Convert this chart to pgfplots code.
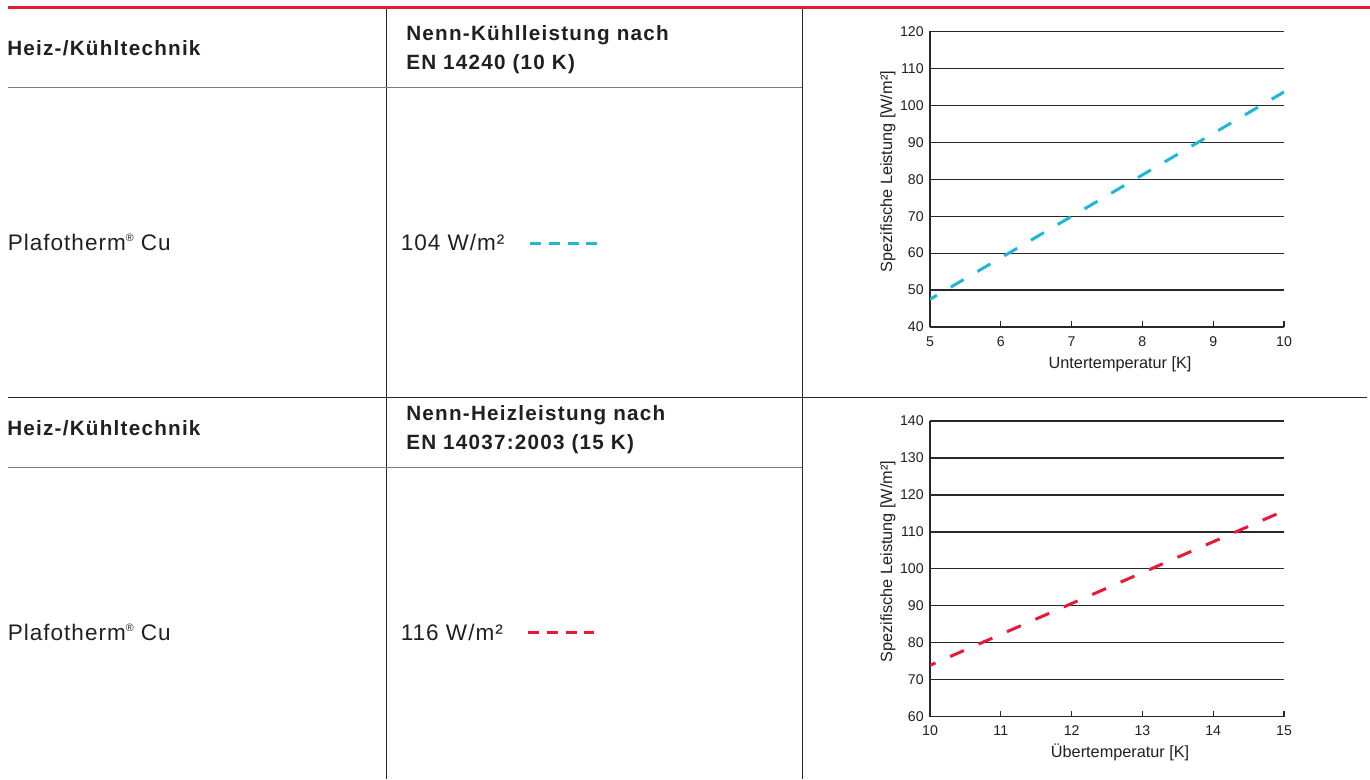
\documentclass[border=0pt]{standalone}
\usepackage{pgfplots}
\pgfplotsset{compat=1.18}
\usepackage{fontspec}
\setmainfont{Liberation Sans}
\newfontfamily\hfont{Liberation Sans}[LetterSpace=6]
\newfontfamily\bfont{Liberation Sans}[LetterSpace=4.5]
\definecolor{txt}{RGB}{35,31,32}
\definecolor{topred}{RGB}{227,30,52}
\definecolor{lcyan}{RGB}{30,184,214}
\definecolor{lred}{RGB}{232,24,56}
\definecolor{rulegray}{RGB}{125,125,125}
\definecolor{gridc}{RGB}{40,40,40}
\newcommand{\reg}{\raisebox{6.5pt}{\fontsize{8pt}{8pt}\selectfont ®}}
\pgfplotsset{
  chartstyle/.style={
    scale only axis, width=265.5pt, height=221.7pt, anchor=south west,
    axis x line*=bottom, axis y line*=left,
    axis line style={-, line width=0.9pt, gridc},
    ymajorgrids, grid style={line width=0.9pt, gridc},
    tick align=inside, major tick length=4.5pt,
    xtick style={line width=0.9pt, gridc},
    ytick style={draw=none},
    /pgf/number format/assume math mode=true,
    tick label style={font=\fontsize{10.6pt}{12pt}\selectfont, text=txt},
    xticklabel style={yshift=-3.5pt},
    yticklabel style={xshift=-1.2pt},
    xlabel style={at={(axis description cs:0.537,0)}, anchor=base, yshift=-30.75pt, font=\fontsize{12.2pt}{14pt}\selectfont, text=txt},
    ylabel style={at={(axis description cs:-0.107,0.525)}, anchor=base, font=\fontsize{12.2pt}{14pt}\selectfont, text=txt},
    ylabel={Spezifische Leistung [W/m²]},
  },
  dline/.style={line width=2.25pt, dash pattern=on 11.25pt off 12pt},
}
\begin{document}
\begin{tikzpicture}
\useasboundingbox (0,0) rectangle (1027.5pt,-584.25pt);
\begin{scope}[x=0.75pt,y=-0.75pt]
  % rules
  \draw[topred, line width=1.9pt] (8,7.5) -- (1370,7.5);
  \draw[gridc, line width=0.9pt] (386.7,8.8) -- (386.7,779);
  \draw[gridc, line width=0.9pt] (802.3,8.8) -- (802.3,779);
  \draw[rulegray, line width=1.2pt] (8,87.3) -- (802.3,87.3);
  \draw[rulegray, line width=1.2pt] (8,467.3) -- (802.3,467.3);
  \draw[gridc, line width=0.9pt] (8,397.3) -- (1367,397.3);
  \begin{scope}[every node/.style={inner sep=0pt, anchor=base west, text=txt}]
    % section 1 text
    \node[font=\hfont\bfseries\fontsize{15.5pt}{18pt}\selectfont] at (7,55.5) {Heiz-/Kühltechnik};
    \node[font=\hfont\bfseries\fontsize{15.5pt}{18pt}\selectfont] at (406,40) {Nenn-Kühlleistung nach};
    \node[font=\hfont\bfseries\fontsize{15.5pt}{18pt}\selectfont] at (406,69.3) {EN 14240 (10 K)};
    \node[font=\bfont\fontsize{16.9pt}{19pt}\selectfont] at (7.5,250) {Plafotherm\reg\ Cu};
    \node[font=\bfont\fontsize{16.9pt}{19pt}\selectfont] at (400.5,250) {104 W/m²};
    % section 2 text
    \node[font=\hfont\bfseries\fontsize{15.5pt}{18pt}\selectfont] at (7,435.3) {Heiz-/Kühltechnik};
    \node[font=\hfont\bfseries\fontsize{15.5pt}{18pt}\selectfont] at (406,420) {Nenn-Heizleistung nach};
    \node[font=\hfont\bfseries\fontsize{15.5pt}{18pt}\selectfont] at (406,449.3) {EN 14037:2003 (15 K)};
    \node[font=\bfont\fontsize{16.9pt}{19pt}\selectfont] at (7.5,640) {Plafotherm\reg\ Cu};
    \node[font=\bfont\fontsize{16.9pt}{19pt}\selectfont] at (400.5,640) {116 W/m²};
  \end{scope}
  \draw[lcyan, line width=2.25pt, dash pattern=on 8.6pt off 5.5pt] (530,243.3) -- (597,243.3);
  \draw[lred, line width=2.25pt, dash pattern=on 8.6pt off 5.5pt] (528,632.3) -- (594,632.3);
\end{scope}
% chart 1
\begin{axis}[chartstyle, at={(697.5pt,-245.25pt)},
  xmin=5, xmax=10, ymin=40, ymax=120,
  xtick={5,6,...,10}, ytick={40,50,...,120},
  xlabel={Untertemperatur [K]}]
  \addplot[lcyan, dline, dash phase=5.25pt] coordinates {(5,47.5) (10,103.6)};
\end{axis}
% chart 2
\begin{axis}[chartstyle, at={(697.5pt,-537.5pt)},
  xmin=10, xmax=15, ymin=60, ymax=140,
  xtick={10,11,...,15}, ytick={60,70,...,140},
  xlabel={Übertemperatur [K]}]
  \addplot[lred, dline, dash phase=6.75pt] coordinates {(10,73.9) (15,115.7)};
\end{axis}
\end{tikzpicture}
\end{document}
